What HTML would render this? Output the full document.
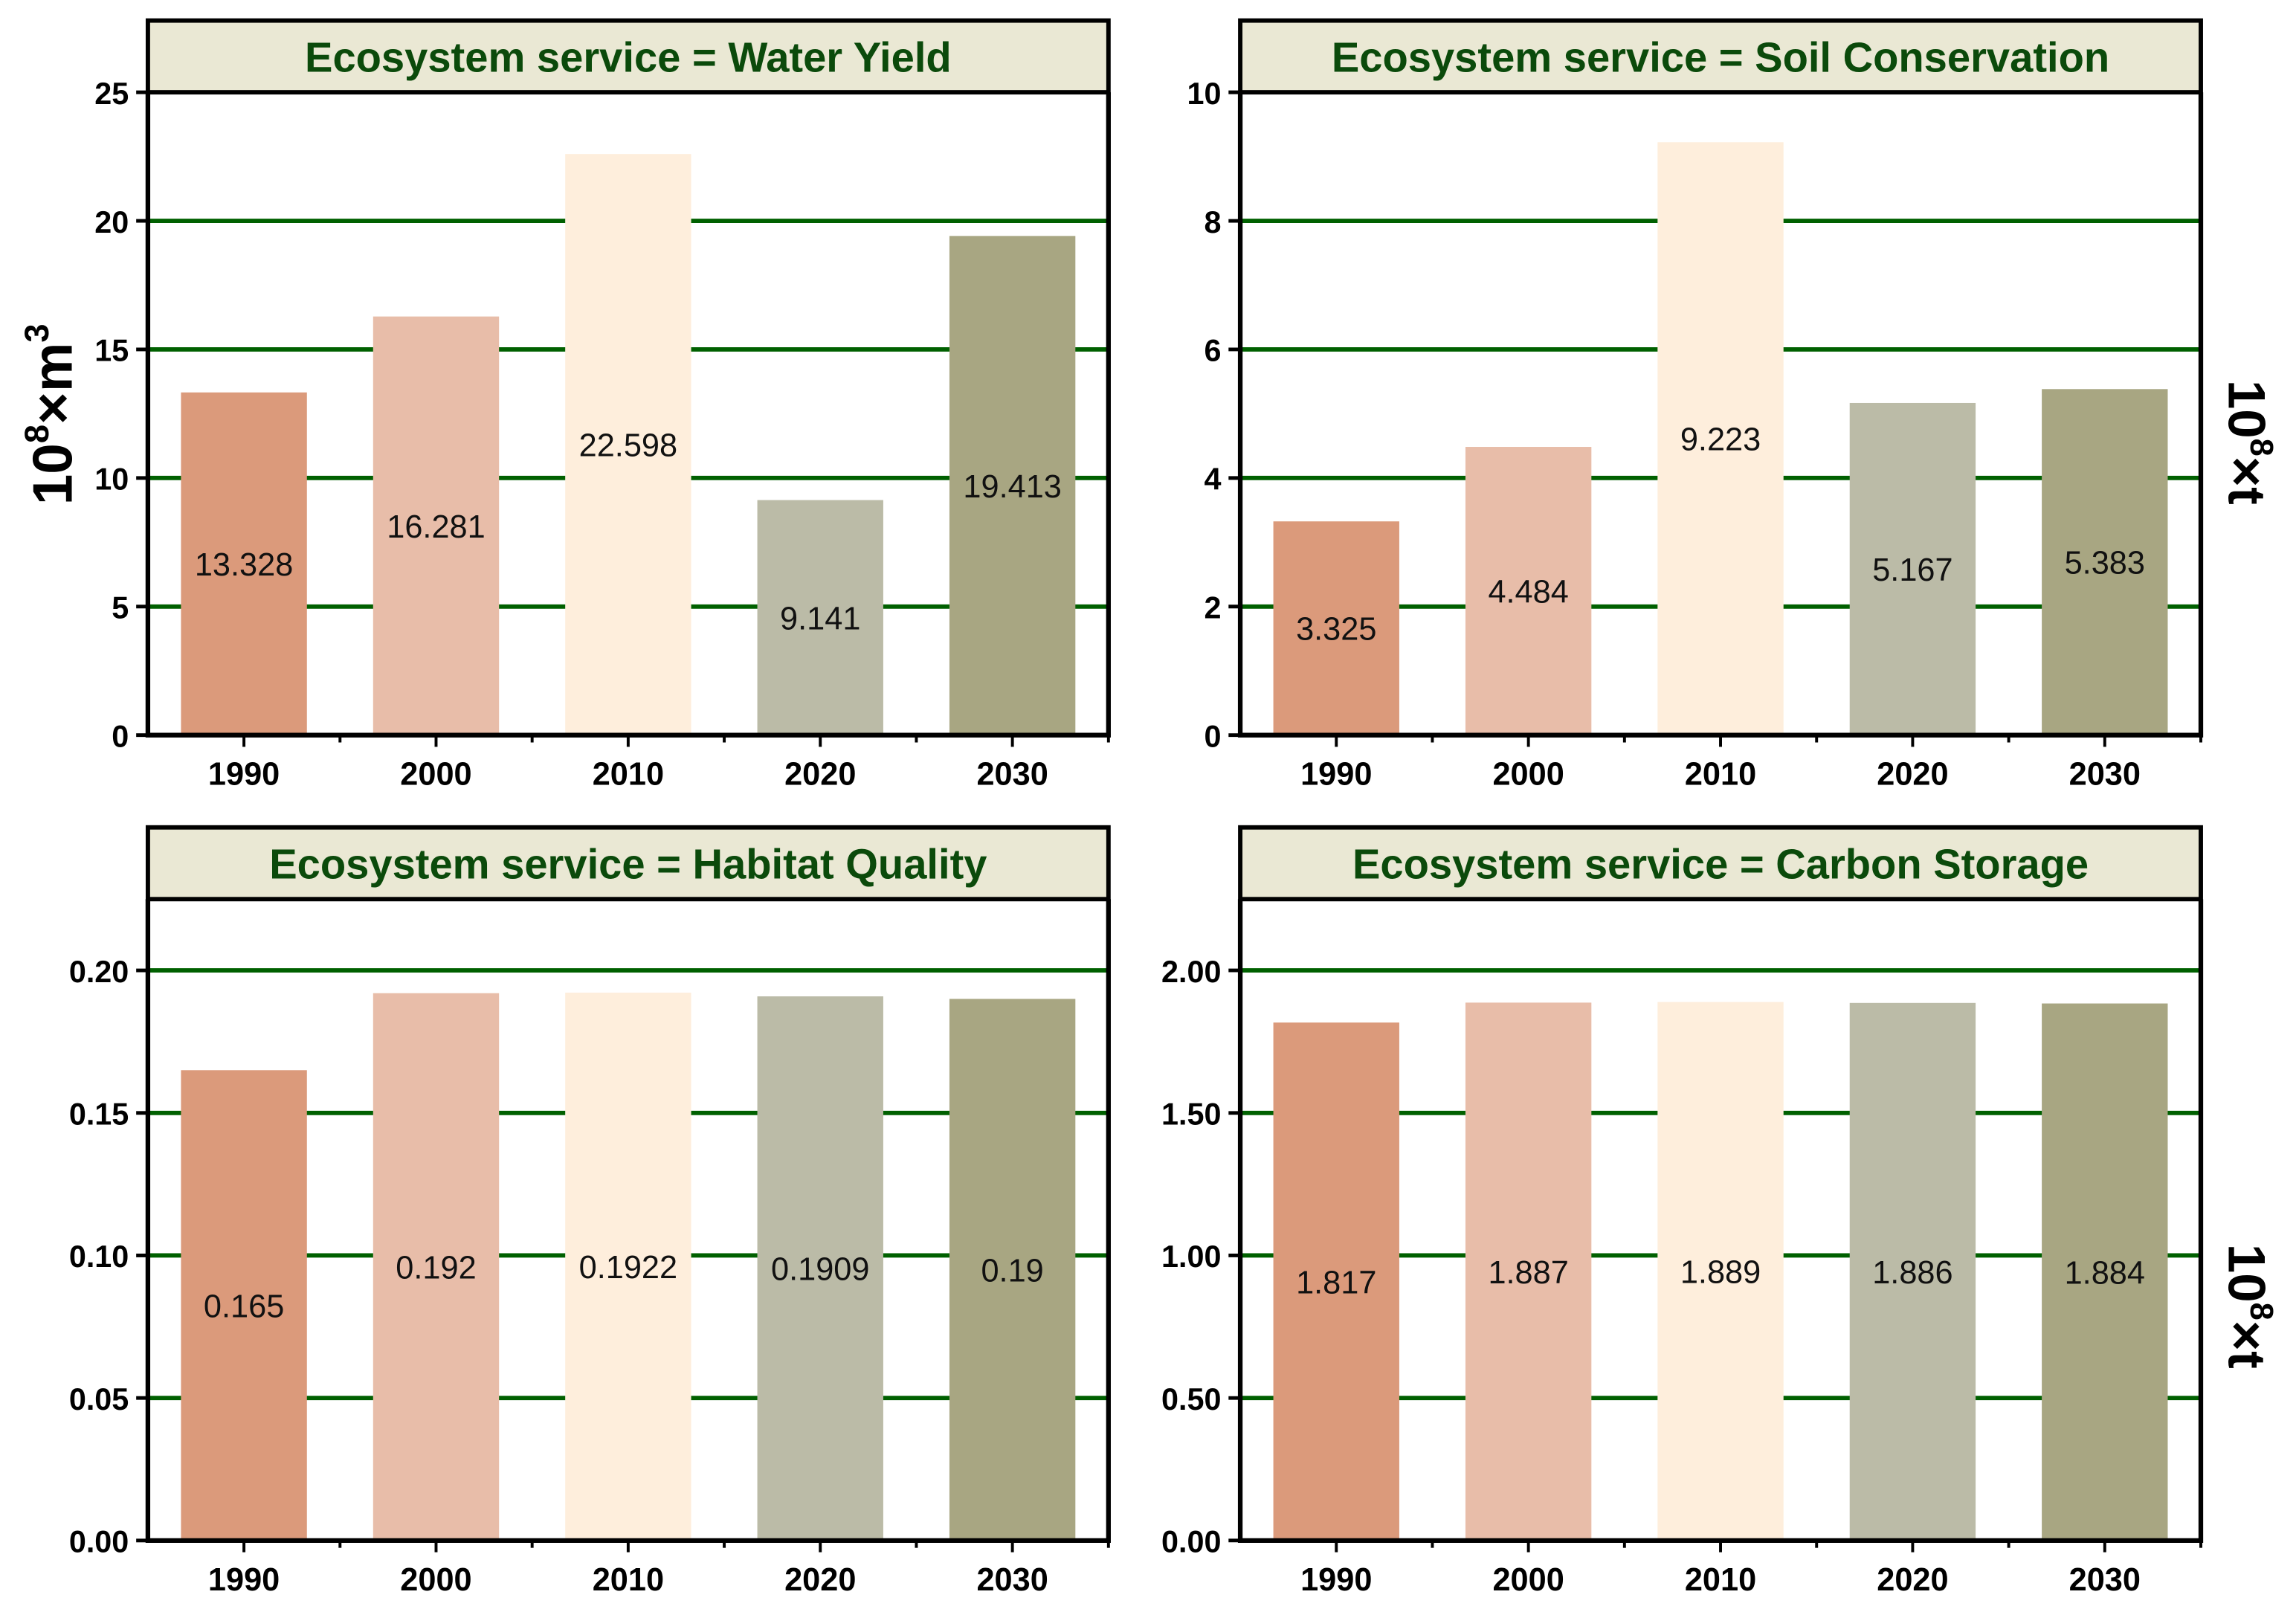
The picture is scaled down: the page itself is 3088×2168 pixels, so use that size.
<!DOCTYPE html>
<html><head><meta charset="utf-8"><style>
html,body{margin:0;padding:0;background:#fff;}
svg{display:block;}
text{font-family:"Liberation Sans",sans-serif;}
</style></head><body>
<svg id="chart" xmlns="http://www.w3.org/2000/svg" width="3088" height="2168" viewBox="0 0 1568 1100.8">
<text transform="translate(49,283) rotate(-90)" text-anchor="middle" font-weight="bold" font-size="38" fill="#000">10<tspan dy="-16" font-size="23">8</tspan><tspan dy="16">×m</tspan><tspan dy="-16" font-size="23">3</tspan></text>
<text transform="translate(1522,302) rotate(90)" text-anchor="middle" font-weight="bold" font-size="36" fill="#000">10<tspan dy="-15" font-size="22">8</tspan><tspan dy="15">×t</tspan></text>
<text transform="translate(1522,892) rotate(90)" text-anchor="middle" font-weight="bold" font-size="36" fill="#000">10<tspan dy="-15" font-size="22">8</tspan><tspan dy="15">×t</tspan></text>
</svg>
<script>
const categories = ['1990','2000','2010','2020','2030'];
const waterYield = [13.328, 16.281, 22.598, 9.141, 19.413];
const soilConservation = [3.325, 4.484, 9.223, 5.167, 5.383];
const habitatQuality = [0.165, 0.192, 0.1922, 0.1909, 0.19];
const carbonStorage = [1.817, 1.887, 1.889, 1.886, 1.884];
const waterLabels = ['13.328','16.281','22.598','9.141','19.413'];
const soilLabels = ['3.325','4.484','9.223','5.167','5.383'];
const habitatLabels = ['0.165','0.192','0.1922','0.1909','0.19'];
const carbonLabels = ['1.817','1.887','1.889','1.886','1.884'];
const waterTicks = [0,5,10,15,20,25];
const soilTicks = [0,2,4,6,8,10];
const habitatTicks = [0,0.05,0.10,0.15,0.20];
const carbonTicks = [0,0.5,1.0,1.5,2.0];
const waterTickLabels = ['0','5','10','15','20','25'];
const soilTickLabels = ['0','2','4','6','8','10'];
const habitatTickLabels = ['0.00','0.05','0.10','0.15','0.20'];
const carbonTickLabels = ['0.00','0.50','1.00','1.50','2.00'];
const colors = ['#DB9A7B','#E8BDA9','#FEEEDC','#BBBBA7','#A8A682'];

const NS='http://www.w3.org/2000/svg';
const svg=document.getElementById('chart');
function mk(tag,attrs,parent){const e=document.createElementNS(NS,tag);for(const k in attrs)e.setAttribute(k,attrs[k]);(parent||svg).appendChild(e);return e;}

const panels=[
 {key:'water',title:'Ecosystem service = Water Yield',x0:101,x1:757,top:14,hb:63,bot:502,max:25,vals:waterYield,labels:waterLabels,ticks:waterTicks,tl:waterTickLabels},
 {key:'soil',title:'Ecosystem service = Soil Conservation',x0:847,x1:1503,top:14,hb:63,bot:502,max:10,vals:soilConservation,labels:soilLabels,ticks:soilTicks,tl:soilTickLabels},
 {key:'habitat',title:'Ecosystem service = Habitat Quality',x0:101,x1:757,top:565,hb:614,bot:1052,max:0.225,vals:habitatQuality,labels:habitatLabels,ticks:habitatTicks,tl:habitatTickLabels},
 {key:'carbon',title:'Ecosystem service = Carbon Storage',x0:847,x1:1503,top:565,hb:614,bot:1052,max:2.25,vals:carbonStorage,labels:carbonLabels,ticks:carbonTicks,tl:carbonTickLabels}
];

panels.forEach(p=>{
 const g=mk('g',{});
 
 
 const y=v=>p.bot-(v/p.max)*(p.bot-p.hb);
 const step=(p.x1-p.x0)/categories.length;
 const xc=i=>p.x0+step*(i+0.5);
 const bw=86;
 const hdr=mk('rect',{x:p.x0,y:p.top,width:p.x1-p.x0,height:p.hb-p.top,fill:'#EAE8D4',stroke:'#000','stroke-width':3},g);
 
 
 const ht=mk('text',{x:(p.x0+p.x1)/2,y:p.top+35,'text-anchor':'middle','font-size':28.5,'font-weight':'bold',fill:'#0B4A0B'},g);
 ht.textContent=p.title;
 
 
 p.ticks.forEach((t,i)=>{
  if(t===0) return;
  if(Math.abs(y(t)-p.hb)<1) return;
  const gl=mk('line',{x1:p.x0,x2:p.x1,y1:y(t),y2:y(t),stroke:'#006000','stroke-width':3},g);
  
  
 });
 p.vals.forEach((v,i)=>{
  const r=mk('rect',{x:xc(i)-bw/2,y:y(v),width:bw,height:p.bot-y(v),fill:colors[i]},g);
  
  
  const t=mk('text',{x:xc(i),y:y(v/2)+8,'text-anchor':'middle','font-size':22,fill:'#111'},g);
  t.textContent=p.labels[i];
  
  
 });
 const ax=mk('path',{d:`M${p.x0},${p.hb} V${p.bot} H${p.x1} V${p.hb}`,fill:'none',stroke:'#000','stroke-width':3.2},g);
 
 
 p.ticks.forEach((t,i)=>{
  const tk=mk('line',{x1:p.x0-8,x2:p.x0,y1:y(t),y2:y(t),stroke:'#000','stroke-width':2.5},g);
  
  
  const tl=mk('text',{x:p.x0-13,y:y(t)+8,'text-anchor':'end','font-size':21,'font-weight':'bold',fill:'#000'},g);
  tl.textContent=p.tl[i];
  
  
 });
 categories.forEach((c,i)=>{
  const tk=mk('line',{x1:xc(i),x2:xc(i),y1:p.bot,y2:p.bot+8,stroke:'#000','stroke-width':2},g);
  
  
  const mt=mk('line',{x1:p.x0+step*(i+1),x2:p.x0+step*(i+1),y1:p.bot,y2:p.bot+5,stroke:'#000','stroke-width':2},g);
  
  
  const tl=mk('text',{x:xc(i),y:p.bot+34,'text-anchor':'middle','font-size':22,'font-weight':'bold',fill:'#000'},g);
  tl.textContent=c;
  
  
 });
});
</script>
</body></html>
